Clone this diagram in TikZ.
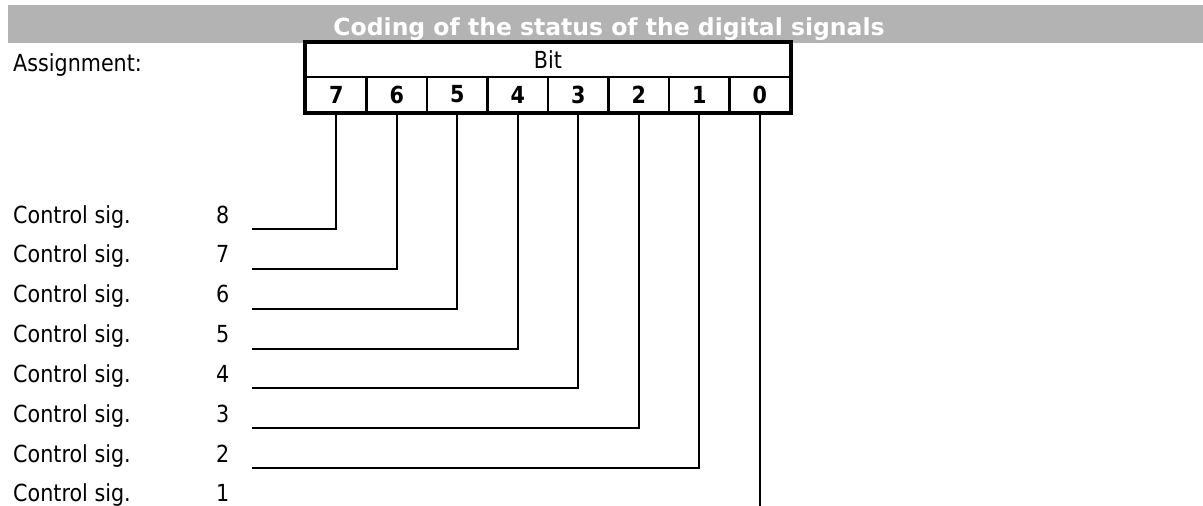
\documentclass[tikz,border=0pt]{standalone}
\usepackage{fontspec}
\setmainfont{DejaVu Sans}[FakeStretch=0.88]
\newfontfamily\titlefont{DejaVu Sans}
\definecolor{barcol}{HTML}{B3B3B3}
\begin{document}
\begin{tikzpicture}[x=1pt,y=-1pt,
  txt/.style={inner sep=0pt, font=\fontsize{23.5}{28}\selectfont},
  boldtxt/.style={inner sep=0pt, font=\fontsize{23.5}{28}\selectfont\bfseries},
  titletxt/.style={inner sep=0pt, font=\titlefont\fontsize{23.5}{28}\selectfont\bfseries},
  cell/.style={boldtxt, draw, line width=2.1pt, minimum width=60.5pt, minimum height=34.5pt},
  hdrcell/.style={txt, draw, line width=2.1pt, minimum width=484pt, minimum height=34pt},
  outer/.style={line width=4pt},
  conn/.style={line width=2.1pt}]
\useasboundingbox (0,0) rectangle (1203,506);
\fill[barcol] (8,5) rectangle (1203,43);
\node[titletxt, text=white, anchor=base] (title) at (609,35) {Coding of the status of the digital signals};
\node[txt, anchor=base west] (assign) at (13,71) {Assignment:};
\node[hdrcell] (hdr) at (548,60) {Bit};
\foreach \b [count=\c from 0] in {7,6,5,4,3,2,1,0}
  \node[cell] (b\b) at ({306+60.5*(\c+0.5)},94.5) {\b};
\draw[outer] (hdr.north west) rectangle (b0.south east);
\foreach \k in {8,7,6,5,4,3,2,1}{
  \node[txt, anchor=base west] (lab\k) at (13,{223+39.85*(8-\k)}) {Control sig.};
  \node[txt, anchor=base west] (num\k) at (216,{223+39.85*(8-\k)}) {\k};
}
\foreach \k [evaluate=\k as \bb using int(\k-1)] in {8,7,6,5,4,3,2}{
  \coordinate (s\k) at (252,{229+39.85*(8-\k)});
  \draw[conn] (s\k) -| (b\bb.south);
}
\coordinate (e1) at (b0 |- 0,506);
\draw[conn] (b0.south) -- (e1);
\end{tikzpicture}
\end{document}
